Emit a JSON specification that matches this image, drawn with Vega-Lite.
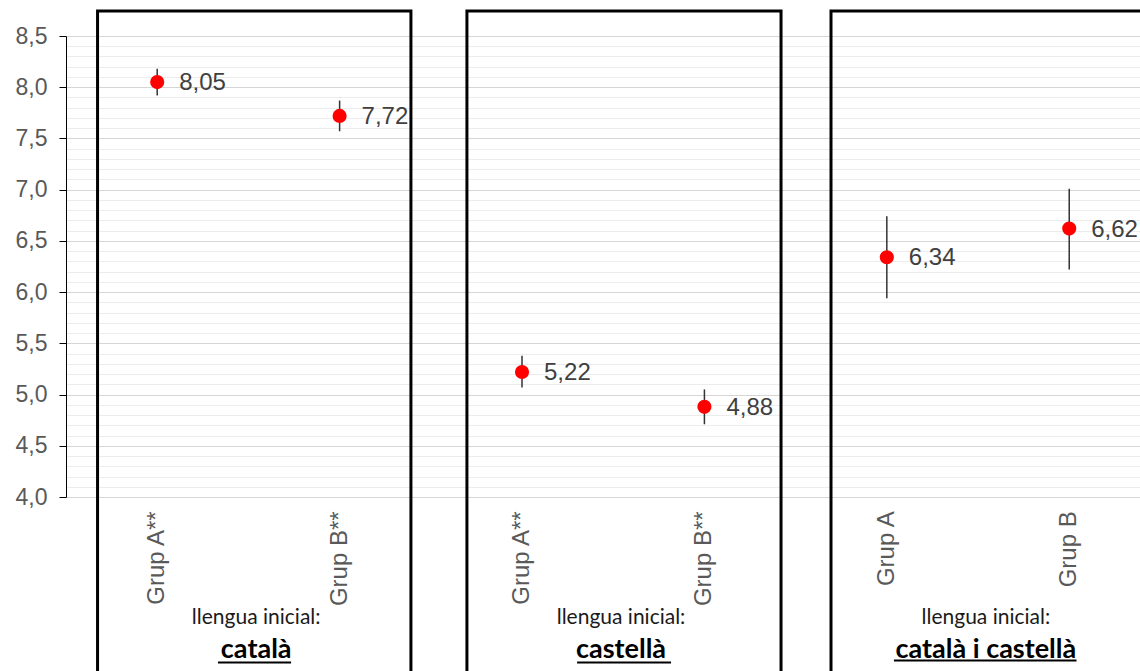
{
  "$schema": "https://vega.github.io/schema/vega-lite/v6.json",
  "width": 1074,
  "height": 461,
  "autosize": {"type": "none"},
  "padding": {"left": 66, "top": 36, "right": 0, "bottom": 174},
  "background": "white",
  "config": {
    "view": {"stroke": null},
    "locale": {"number": {"decimal": ",", "thousands": ".", "grouping": [3], "currency": ["", " €"]}}
  },
  "data": {
    "values": [
      {"ordre": 1, "llengua": "català", "grup": "Grup A**", "mitjana": 8.05, "inferior": 7.92, "superior": 8.18},
      {"ordre": 2, "llengua": "català", "grup": "Grup B**", "mitjana": 7.72, "inferior": 7.57, "superior": 7.87},
      {"ordre": 3, "llengua": "castellà", "grup": "Grup A**", "mitjana": 5.22, "inferior": 5.07, "superior": 5.38},
      {"ordre": 4, "llengua": "castellà", "grup": "Grup B**", "mitjana": 4.88, "inferior": 4.71, "superior": 5.05},
      {"ordre": 5, "llengua": "català i castellà", "grup": "Grup A", "mitjana": 6.34, "inferior": 5.94, "superior": 6.74},
      {"ordre": 6, "llengua": "català i castellà", "grup": "Grup B", "mitjana": 6.62, "inferior": 6.22, "superior": 7.01}
    ]
  },
  "layer": [
    {
      "mark": {"type": "rule", "color": "#333333", "strokeWidth": 1.5},
      "encoding": {
        "x": {"field": "ordre", "type": "quantitative", "scale": {"domain": [0.5, 6.388], "nice": false, "zero": false}, "axis": null},
        "y": {"field": "inferior", "type": "quantitative", "scale": {"domain": [4, 8.5], "nice": false, "zero": false},
          "axis": {
            "values": [4.0,4.1,4.2,4.3,4.4,4.5,4.6,4.7,4.8,4.9,5.0,5.1,5.2,5.3,5.4,5.5,5.6,5.7,5.8,5.9,6.0,6.1,6.2,6.3,6.4,6.5,6.6,6.7,6.8,6.9,7.0,7.1,7.2,7.3,7.4,7.5,7.6,7.7,7.8,7.9,8.0,8.1,8.2,8.3,8.4,8.5],
            "tickCount": 100,
            "format": ".1f",
            "labelExpr": "abs(datum.value*2 - round(datum.value*2)) < 0.001 ? datum.label : ''",
            "grid": true,
            "gridColor": {"condition": {"test": "abs(datum.value*2 - round(datum.value*2)) < 0.001", "value": "#d6d6d6"}, "value": "#ececec"},
            "tickColor": {"condition": {"test": "abs(datum.value*2 - round(datum.value*2)) < 0.001", "value": "#000000"}, "value": "transparent"},
            "tickSize": 7,
            "domainColor": "#000000",
            "labelFont": "Liberation Sans",
            "labelFontSize": 23,
            "labelColor": "#595959",
            "labelPadding": 12,
            "labelOverlap": false,
            "labelFlush": false,
            "title": null
          }
        },
        "y2": {"field": "superior"}
      }
    },
    {
      "mark": {"type": "circle", "color": "#ff0000", "opacity": 1, "size": 200},
      "encoding": {
        "x": {"field": "ordre", "type": "quantitative", "scale": {"domain": [0.5, 6.388], "nice": false, "zero": false}, "axis": null},
        "y": {"field": "mitjana", "type": "quantitative", "scale": {"domain": [4, 8.5], "nice": false, "zero": false}}
      }
    },
    {
      "mark": {"type": "text", "align": "left", "baseline": "middle", "dx": 22, "dy": 1, "font": "Liberation Sans", "fontSize": 24, "color": "#404040"},
      "encoding": {
        "x": {"field": "ordre", "type": "quantitative", "scale": {"domain": [0.5, 6.388], "nice": false, "zero": false}, "axis": null},
        "y": {"field": "mitjana", "type": "quantitative", "scale": {"domain": [4, 8.5], "nice": false, "zero": false}},
        "text": {"field": "mitjana", "type": "quantitative", "format": ".2f"}
      }
    },
    {
      "mark": {"type": "text", "angle": 270, "align": "right", "baseline": "middle", "font": "Liberation Sans", "fontSize": 24, "color": "#595959"},
      "encoding": {
        "x": {"field": "ordre", "type": "quantitative", "scale": {"domain": [0.5, 6.388], "nice": false, "zero": false}, "axis": null},
        "y": {"datum": 3.86, "type": "quantitative", "scale": {"domain": [4, 8.5], "nice": false, "zero": false}},
        "text": {"field": "grup", "type": "nominal"}
      }
    },
    {
      "transform": [{"filter": "datum.ordre == 1 || datum.ordre == 3 || datum.ordre == 5"}],
      "mark": {"type": "text", "text": "llengua inicial:", "align": "center", "baseline": "middle", "dx": 99, "font": "Lato", "fontSize": 21, "color": "#1a1a1a"},
      "encoding": {
        "x": {"field": "ordre", "type": "quantitative", "scale": {"domain": [0.5, 6.388], "nice": false, "zero": false}, "axis": null},
        "y": {"datum": 2.82, "type": "quantitative", "scale": {"domain": [4, 8.5], "nice": false, "zero": false}}
      }
    },
    {
      "transform": [{"filter": "datum.ordre == 1 || datum.ordre == 3 || datum.ordre == 5"}],
      "mark": {"type": "text", "align": "center", "baseline": "middle", "dx": 99, "font": "Lato", "fontWeight": "bold", "fontSize": 27, "color": "#000000"},
      "encoding": {
        "x": {"field": "ordre", "type": "quantitative", "scale": {"domain": [0.5, 6.388], "nice": false, "zero": false}, "axis": null},
        "y": {"datum": 2.51, "type": "quantitative", "scale": {"domain": [4, 8.5], "nice": false, "zero": false}},
        "text": {"field": "llengua", "type": "nominal"}
      }
    },
    {
      "data": {"values": [{}]},
      "mark": {"type": "rule", "color": "#000000", "strokeWidth": 2},
      "encoding": {
        "x": {"datum": 1.333, "type": "quantitative", "scale": {"domain": [0.5, 6.388], "nice": false, "zero": false}, "axis": null},
        "x2": {"datum": 1.734},
        "y": {"datum": 2.385, "type": "quantitative", "scale": {"domain": [4, 8.5], "nice": false, "zero": false}}
      }
    },
    {
      "data": {"values": [{}]},
      "mark": {"type": "rule", "color": "#000000", "strokeWidth": 2},
      "encoding": {
        "x": {"datum": 3.302, "type": "quantitative", "scale": {"domain": [0.5, 6.388], "nice": false, "zero": false}, "axis": null},
        "x2": {"datum": 3.817},
        "y": {"datum": 2.385, "type": "quantitative", "scale": {"domain": [4, 8.5], "nice": false, "zero": false}}
      }
    },
    {
      "data": {"values": [{}]},
      "mark": {"type": "rule", "color": "#000000", "strokeWidth": 2},
      "encoding": {
        "x": {"datum": 5.039, "type": "quantitative", "scale": {"domain": [0.5, 6.388], "nice": false, "zero": false}, "axis": null},
        "x2": {"datum": 6.04},
        "y": {"datum": 2.405, "type": "quantitative", "scale": {"domain": [4, 8.5], "nice": false, "zero": false}}
      }
    },
    {
      "data": {"values": [{}]},
      "mark": {"type": "rect", "filled": false, "stroke": "#000000", "strokeWidth": 3},
      "encoding": {
        "x": {"datum": 0.673, "type": "quantitative", "scale": {"domain": [0.5, 6.388], "nice": false, "zero": false}, "axis": null},
        "x2": {"datum": 2.391},
        "y": {"datum": 8.744, "type": "quantitative", "scale": {"domain": [4, 8.5], "nice": false, "zero": false}},
        "y2": {"datum": 2.0}
      }
    },
    {
      "data": {"values": [{}]},
      "mark": {"type": "rect", "filled": false, "stroke": "#000000", "strokeWidth": 3},
      "encoding": {
        "x": {"datum": 2.698, "type": "quantitative", "scale": {"domain": [0.5, 6.388], "nice": false, "zero": false}, "axis": null},
        "x2": {"datum": 4.42},
        "y": {"datum": 8.744, "type": "quantitative", "scale": {"domain": [4, 8.5], "nice": false, "zero": false}},
        "y2": {"datum": 2.0}
      }
    },
    {
      "data": {"values": [{}]},
      "mark": {"type": "rect", "filled": false, "stroke": "#000000", "strokeWidth": 3},
      "encoding": {
        "x": {"datum": 4.694, "type": "quantitative", "scale": {"domain": [0.5, 6.388], "nice": false, "zero": false}, "axis": null},
        "x2": {"datum": 6.4},
        "y": {"datum": 8.744, "type": "quantitative", "scale": {"domain": [4, 8.5], "nice": false, "zero": false}},
        "y2": {"datum": 2.0}
      }
    }
  ]
}
